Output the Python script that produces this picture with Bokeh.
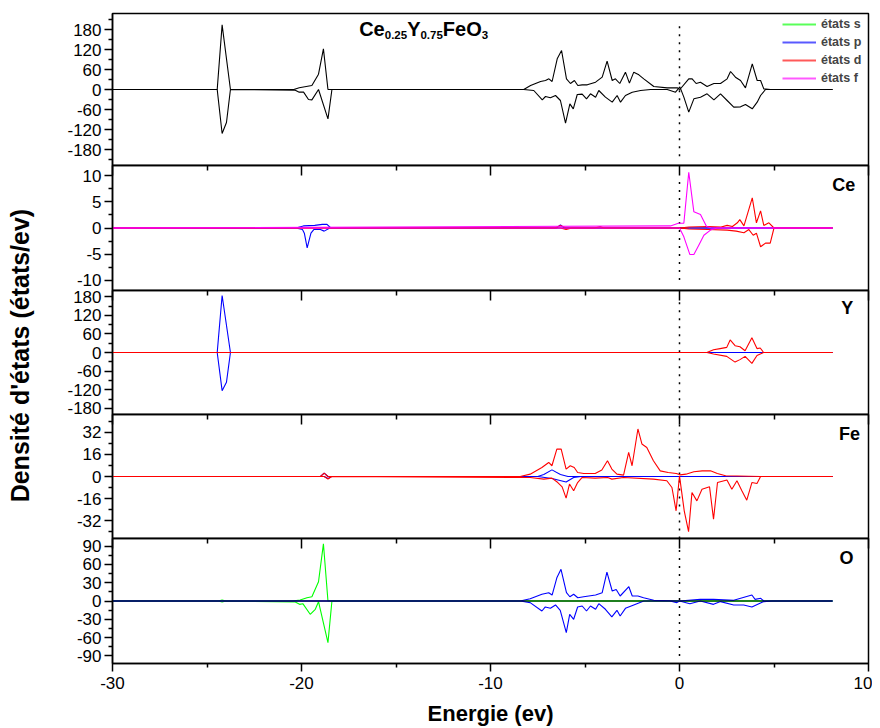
from bokeh.plotting import figure
from bokeh.layouts import row, column
from bokeh.models import (Range1d, LinearAxis, FixedTicker, Label, Legend, LegendItem,
                          PrintfTickFormatter, CustomLabelingPolicy)
from bokeh.embed import file_html
from bokeh.resources import INLINE

FONT = "Liberation Sans"
GREEN, BLUE, RED, MAGENTA = "#00ff00", "#0000ff", "#ff0000", "#ff00ff"

# ---------------- data ----------------
x_ticks = [-30, -20, -10, 0, 10]
x_minor = [-25, -15, -5, 5]
fermi = 0.0

# total DOS (top panel)
tot_up_e = [-30, -24.46, -24.2, -23.76, -20.41, -20.12, -19.45, -19.1, -18.84, -18.6, -8.24, -7.88, -7.35,
            -7.09, -6.91, -6.74, -6.47, -6.24, -5.98, -5.77, -5.56, -5.38, -5.15, -4.88, -4.44, -4.09, -3.83,
            -3.56, -3.39, -3.16, -2.86, -2.65, -2.42, -2.15, -1.89, -1.36, -0.65, -0.12, 0.02, 0.49, 0.67,
            0.88, 1.11, 1.46, 1.82, 2.17, 2.52, 2.7, 2.96, 3.23, 3.49, 3.85, 4.11, 4.29, 4.46, 4.81, 8.1]
tot_up_v = [0, 0, 194, 0, 0, 5, 12, 46, 122, 0, 0, 12, 24,
            27, 32, 24, 92, 117, 32, 18, 27, 12, 14, 14, 22, 37, 85,
            27, 32, 18, 52, 19, 52, 44, 32, 9, 5, 5, 0, 32, 32,
            18, 22, 9, 18, 18, 32, 54, 37, 27, 5, 77, 27, 27, 2, 0, 0]
tot_dn_e = [-30, -24.46, -24.2, -23.97, -23.76, -20.33, -20.12, -19.89, -19.63, -19.45, -19.1, -18.6, -18.39,
            -8.24, -7.71, -7.26, -7.09, -6.83, -6.56, -6.30, -6.03, -5.80, -5.62, -5.41, -5.15, -4.92, -4.71,
            -4.44, -4.27, -3.92, -3.56, -3.30, -3.12, -2.86, -2.50, -2.06, -1.53, -0.65, -0.21, 0.02, 0.23,
            0.49, 0.76, 1.11, 1.46, 1.82, 2.17, 2.52, 2.87, 3.23, 3.49, 3.85, 4.11, 4.29, 4.55, 8.1]
tot_dn_v = [0, 0, -132, -99, 0, -2, -8, -8, -30, -31, 0, -88, 0,
            0, -3, -31, -21, -25, -18, -33, -101, -43, -58, -15, -14, -28, -13,
            -23, -3, -23, -38, -18, -38, -18, -8, -3, 0, 0, -8, 8, -23,
            -68, -28, -23, -13, -31, -13, -33, -53, -52, -45, -58, -38, -18, 0, 0]

# Ce
ce_p_up_e = [-30, -20.3, -19.9, -19.3, -18.9, -18.65, -18.45, -6.5, -6.3, -6.1, 8.1]
ce_p_up_v = [0, 0, 0.4, 0.5, 0.7, 0.7, 0, 0, 0.6, 0, 0]
ce_p_dn_e = [-30, -20.3, -19.95, -19.85, -19.7, -19.5, -19.35, -19.0, -18.8, -18.5, 8.1]
ce_p_dn_v = [0, 0, -0.3, -1.0, -3.8, -1.0, -0.3, -0.3, -0.6, 0, 0]
ce_d_up_e = [-30, -6.6, -6.3, -6.0, -4.5, -4.2, -4.0, 0.0, 0.5, 1.5, 2.2, 2.52, 2.8, 3.06, 3.19, 3.41,
             3.85, 4.07, 4.29, 4.46, 4.73, 5.0, 8.1]
ce_d_up_v = [0, 0, 0.5, 0, 0, 0.3, 0, 0, 0.2, 0.3, 0.2, 0.5, 0.3, 1.0, 1.6, 0.4,
             5.8, 1.0, 3.3, 0.5, 1.0, 0, 0]
ce_d_dn_e = [-30, -6.3, -6.0, -5.7, 0, 0.5, 1.5, 2.52, 3.0, 3.41, 3.67, 3.90, 4.07, 4.29, 4.55, 4.8, 5.0, 8.1]
ce_d_dn_v = [0, 0, -0.3, 0, 0, -0.2, -0.3, -0.4, -0.6, -0.9, -0.3, -1.4, -1.0, -3.6, -2.9, -2.9, 0, 0]
ce_f_up_e = [-30, -0.48, -0.06, 0.23, 0.49, 0.76, 1.11, 1.43, 1.7, 8.1]
ce_f_up_v = [0, 0.4, 0.9, 0.9, 10.7, 3.1, 2.6, 0.3, 0, 0]
ce_f_dn_e = [-30, 0.0, 0.23, 0.55, 0.76, 1.02, 1.29, 1.64, 2.0, 8.1]
ce_f_dn_v = [0, 0, -1.7, -5.1, -5.1, -3.3, -1.4, -0.4, 0, 0]

# Y
y_p_up_e = [-30, -24.46, -24.2, -23.76, 8.1]
y_p_up_v = [0, 0, 184, 0, 0]
y_p_dn_e = [-30, -24.46, -24.2, -23.97, -23.76, 8.1]
y_p_dn_v = [0, 0, -123, -96, 0, 0]
y_d_up_e = [-30, 1.45, 1.8, 2.15, 2.5, 2.68, 2.94, 3.2, 3.47, 3.83, 4.1, 4.27, 4.45, 8.1]
y_d_up_v = [0, 0, 8.7, 12.6, 16.5, 40.6, 22, 18.4, 5.8, 47.4, 12.6, 14.5, 0, 0]
y_d_dn_e = [-30, 1.45, 1.8, 2.5, 2.94, 3.2, 3.47, 3.83, 4.1, 4.45, 8.1]
y_d_dn_v = [0, 0, -4.8, -12.6, -31, -23, -12.6, -35, -9.7, 0, 0]

# Fe
fe_p_up_e = [-30, -19.0, -18.8, -18.6, -7.5, -7.18, -6.75, -6.3, -5.9, 8.1]
fe_p_up_v = [0, 0, 2.5, 0, 0, 1.5, 4.8, 1.5, 0, 0]
fe_p_dn_e = [-30, -18.8, -18.6, -18.4, -7.5, -6.75, -6.0, -5.6, -5.2, 8.1]
fe_p_dn_v = [0, 0, -1.5, 0, 0, -1.5, -4.0, -0.7, 0, 0]
fe_d_up_e = [-30, -19.0, -18.8, -18.6, -8.43, -7.9, -7.28, -6.92, -6.75, -6.49, -6.26, -6.0, -5.78, -5.57,
             -5.39, -5.07, -4.46, -4.11, -3.81, -3.58, -3.31, -2.96, -2.69, -2.51, -2.2, -1.99, -1.73,
             -1.38, -1.02, -0.6, -0.17, 0.04, 0.34, 0.76, 1.2, 1.64, 2.0, 2.44, 4.29, 8.1]
fe_d_up_v = [0, 0, 2.5, 0, 0, 1.7, 6.5, 10.2, 7.8, 19.9, 19.9, 5.4, 7.8, 6.5,
             2.9, 2.2, 2.2, 4.7, 11.4, 5.4, 1.7, 1.0, 17.5, 7.8, 34.5, 23.6, 21.1,
             11.4, 4.1, 2.9, 2.2, 1.2, 1.7, 3.4, 4.1, 4.1, 2.2, 0.5, 0, 0]
fe_d_dn_e = [-30, -18.8, -18.6, -18.4, -7.9, -7.18, -6.75, -6.44, -6.21, -6.0, -5.82, -5.6, -5.39, -5.15,
             -4.46, -3.8, -3.58, -2.96, -1.38, -0.67, -0.4, -0.18, 0.0, 0.25, 0.48, 0.66, 0.92, 1.19,
             1.59, 1.8, 2.01, 2.51, 2.77, 3.04, 3.3, 3.56, 3.83, 4.1, 4.29, 8.1]
fe_d_dn_v = [0, 0, -1.8, 0, -0.7, -1.9, -1.2, -4.4, -7.5, -15.7, -5.5, -10.4, -4.4, -0.7,
             -1.2, -0.7, -1.9, -0.7, -1.9, -3.1, -8.0, -24.9, 0.5, -24.9, -40, -11.6, -17.7, -9.2,
             -7.5, -31, -4.4, -2.6, -9.2, -3.1, -10.4, -17.2, -4.4, -5.1, 0, 0]

# O
o_s_up_e = [-30, -24.4, -24.2, -24.0, -20.5, -20.07, -19.71, -19.45, -19.1, -18.84, -18.6, 8.1]
o_s_up_v = [0, 0, 1.6, 0, 0, 1.6, 5.4, 7.1, 31.6, 93.8, 0, 0]
o_s_dn_e = [-30, -24.4, -24.2, -24.0, -20.33, -20.1, -19.93, -19.54, -19.27, -19.1, -18.6, -18.39, 8.1]
o_s_dn_v = [0, 0, -1.6, 0, -1.6, -5.5, -4.4, -21.8, -13.6, -1.1, -68.2, 0, 0]
o_p_up_e = [-30, -8.43, -7.9, -7.28, -6.92, -6.74, -6.49, -6.27, -5.98, -5.8, -5.6, -5.38, -5.07, -4.44,
            -4.09, -3.84, -3.56, -3.35, -3.14, -2.68, -2.5, -2.2, -1.9, -1.36, 0.0, 1.1, 1.8, 2.87, 3.83,
            4.0, 4.3, 4.46, 8.1]
o_p_up_v = [0, 0, 3.8, 11, 13.6, 9.8, 38, 52, 13.6, 7, 11, 5.4, 7, 9.8,
            13.6, 47.5, 16.4, 19, 8.2, 23.4, 8.2, 8.2, 5.4, 1.1, 0, 2.7, 2.7, 1.1, 9.8,
            2.7, 4.4, 0, 0]
o_p_dn_e = [-30, -8.43, -7.9, -7.28, -7.1, -6.83, -6.56, -6.31, -5.99, -5.81, -5.6, -5.39, -5.15, -4.92,
            -4.71, -4.44, -4.27, -3.92, -3.58, -3.31, -3.14, -2.86, -2.42, -1.89, -0.5, -0.14, 0.0, 0.55,
            1.1, 1.8, 2.17, 2.87, 3.4, 3.83, 4.2, 4.46, 4.9, 8.1]
o_p_dn_v = [0, 0, -2.7, -16.4, -9.8, -12, -6.5, -15.3, -52, -21.8, -30, -9.8, -8.2, -16.4,
            -8.2, -13.6, -4.4, -13.6, -26, -15.3, -24.5, -12, -6.5, 0, 0, -2.7, 0, -4.4,
            0, -5.5, -1, -6.5, -6.5, -9.8, -4.4, -1, 0, 0]
o_base_e = [-30, 8.1]
o_base_v = [0, 0]

legend_labels = ["états s", "états p", "états d", "états f"]
legend_colors = [GREEN, BLUE, RED, MAGENTA]

# panel axes
top_ticks = [-180, -120, -60, 0, 60, 120, 180]
top_minor = [-210, -150, -90, -30, 30, 90, 150, 210]
ce_ticks = [-10, -5, 0, 5, 10]
ce_minor = [-7.5, -2.5, 2.5, 7.5]
y_ticks = [-180, -120, -60, 0, 60, 120, 180]
y_minor = [-150, -90, -30, 30, 90, 150]
fe_ticks = [-32, -16, 0, 16, 32]
fe_minor = [-40, -24, -8, 8, 24, 40]
o_ticks = [-90, -60, -30, 0, 30, 60, 90]
o_minor = [-75, -45, -15, 15, 45, 75]
fermi_ext = [200, 10, 180, 45, 90]

PAD = 6  # transparent border that overlaps the neighbour panel, so edge labels are not clipped
NO_LABELS = CustomLabelingPolicy(code="""
const all = [...indices]
for (const i of all) indices.unset(i)
return indices
""")


def make_panel(yr, yt, ym, fh, first=False, last=False):
    p = figure(frame_width=756, frame_height=fh, x_range=Range1d(-30, 10), y_range=Range1d(-yr, yr),
               output_backend="svg", toolbar_location=None, x_axis_location=None,
               min_border_left=60, min_border_right=4,
               min_border_top=13 if first else PAD,
               min_border_bottom=0 if last else PAD,
               background_fill_color="white", border_fill_alpha=0)
    if not first:
        p.styles = {"margin-top": f"-{2 * PAD}px"}
    p.grid.visible = False
    p.outline_line_color = "black"
    p.outline_line_width = 1.5
    ya = p.yaxis[0]
    ya.ticker = FixedTicker(ticks=yt, minor_ticks=ym)
    ya.formatter = PrintfTickFormatter(format="%d")
    ya.major_tick_in = 0
    ya.major_tick_out = 8
    ya.minor_tick_in = 0
    ya.minor_tick_out = 4
    ya.axis_line_width = 1.5
    ya.major_tick_line_width = 1.5
    ya.minor_tick_line_width = 1.5
    ya.major_label_text_font = FONT
    ya.major_label_text_font_size = "17px"
    ya.major_label_text_color = "black"
    ya.major_label_standoff = 3
    if not first:
        ax = LinearAxis(ticker=FixedTicker(ticks=x_ticks, minor_ticks=x_minor),
                        major_tick_in=10, major_tick_out=0, minor_tick_in=5, minor_tick_out=0,
                        major_label_text_font_size="0px", major_label_standoff=0,
                        major_label_policy=NO_LABELS,
                        axis_line_width=1.5, major_tick_line_width=1.5, minor_tick_line_width=1.5)
        p.add_layout(ax, "above")
    if last:
        bx = LinearAxis(ticker=FixedTicker(ticks=x_ticks, minor_ticks=x_minor),
                        formatter=PrintfTickFormatter(format="%d"),
                        major_tick_in=0, major_tick_out=8, minor_tick_in=0, minor_tick_out=4,
                        major_label_text_font=FONT, major_label_text_font_size="17px",
                        major_label_text_color="black", major_label_standoff=5,
                        axis_label="Energie (ev)", axis_label_text_font=FONT,
                        axis_label_text_font_size="22px", axis_label_text_font_style="bold",
                        axis_label_text_color="black", axis_label_standoff=9,
                        axis_line_width=1.5, major_tick_line_width=1.5, minor_tick_line_width=1.5)
        p.add_layout(bx, "below")
    return p


def fermi_line(p, ext):
    p.segment(x0=[fermi], y0=[-ext], x1=[fermi], y1=[ext], line_color="black",
              line_width=1.5, line_dash="2 6")


def curve(p, e, v, color):
    p.line(e, v, line_color=color, line_width=1.1)


def panel_label(p, x, y, text):
    p.add_layout(Label(x=x, y=y, text=text, text_align="right", text_baseline="alphabetic",
                       text_font=FONT, text_font_size="18px", text_font_style="bold", text_color="black"))


# ---- top panel (total) ----
p1 = make_panel(228, top_ticks, top_minor, 152, first=True)
fermi_line(p1, fermi_ext[0])
curve(p1, tot_up_e, tot_up_v, "black")
curve(p1, tot_dn_e, tot_dn_v, "black")
items = []
for lab, col in zip(legend_labels, legend_colors):
    r = p1.line(x=[fermi], y=[float("nan")], line_color=col, line_width=2, line_alpha=0.65)
    items.append(LegendItem(label=lab, renderers=[r]))
leg = Legend(items=items, location=(670, 79), border_line_color=None, background_fill_alpha=0,
             label_text_font=FONT, label_text_font_size="12.5px", label_text_font_style="bold",
             glyph_width=34, glyph_height=16, label_height=16, label_standoff=5, spacing=2,
             padding=0, margin=0)
p1.add_layout(leg)
# formula title with subscripts
title_parts = [("Ce", 0, False), ("0.25", 25.6, True), ("Y", 48, False),
               ("0.75", 61.3, True), ("FeO", 83.7, False), ("3", 122.6, True)]
for txt, off, sub in title_parts:
    p1.add_layout(Label(x=-16.95, y=163 if sub else 181, x_offset=off, text=txt,
                        text_baseline="alphabetic", text_align="left", text_font=FONT,
                        text_font_size="11.5px" if sub else "20px", text_font_style="bold",
                        text_color="black"))

# ---- Ce ----
p2 = make_panel(12, ce_ticks, ce_minor, 125)
fermi_line(p2, fermi_ext[1])
curve(p2, ce_p_up_e, ce_p_up_v, BLUE)
curve(p2, ce_p_dn_e, ce_p_dn_v, BLUE)
curve(p2, ce_d_up_e, ce_d_up_v, RED)
curve(p2, ce_d_dn_e, ce_d_dn_v, RED)
curve(p2, ce_f_up_e, ce_f_up_v, MAGENTA)
curve(p2, ce_f_dn_e, ce_f_dn_v, MAGENTA)
panel_label(p2, 9.3, 8.25, "Ce")

# ---- Y ----
p3 = make_panel(200, y_ticks, y_minor, 124)
fermi_line(p3, fermi_ext[2])
curve(p3, y_p_up_e, y_p_up_v, BLUE)
curve(p3, y_p_dn_e, y_p_dn_v, BLUE)
curve(p3, y_d_up_e, y_d_up_v, RED)
curve(p3, y_d_dn_e, y_d_dn_v, RED)
panel_label(p3, 9.2, 144.5, "Y")

# ---- Fe ----
p4 = make_panel(45, fe_ticks, fe_minor, 124)
fermi_line(p4, fermi_ext[3])
curve(p4, fe_p_up_e, fe_p_up_v, BLUE)
curve(p4, fe_p_dn_e, fe_p_dn_v, BLUE)
curve(p4, fe_d_up_e, fe_d_up_v, RED)
curve(p4, fe_d_dn_e, fe_d_dn_v, RED)
panel_label(p4, 9.55, 31, "Fe")

# ---- O ----
p5 = make_panel(102.5, o_ticks, o_minor, 125, last=True)
fermi_line(p5, fermi_ext[4])
curve(p5, o_s_up_e, o_s_up_v, GREEN)
curve(p5, o_s_dn_e, o_s_dn_v, GREEN)
curve(p5, o_p_up_e, o_p_up_v, BLUE)
curve(p5, o_p_dn_e, o_p_dn_v, BLUE)
curve(p5, o_base_e, o_base_v, "black")
panel_label(p5, 9.2, 70, "O")

# ---- vertical y title ----
pt = figure(width=52, height=660, x_range=Range1d(0, 1), y_range=Range1d(0, 1),
            output_backend="svg", toolbar_location=None, x_axis_location=None,
            y_axis_location=None, min_border=0, outline_line_color=None)
pt.grid.visible = False
pt.add_layout(Label(x=0.37, y=0.462, text="Densité d'états (états/ev)", angle=90, angle_units="deg",
                    text_align="center", text_baseline="middle", text_font=FONT,
                    text_font_size="25px", text_font_style="bold", text_color="black"))

layout = row(pt, column(p1, p2, p3, p4, p5, spacing=0), spacing=0)
open("out.html", "w").write(file_html(layout, INLINE))
